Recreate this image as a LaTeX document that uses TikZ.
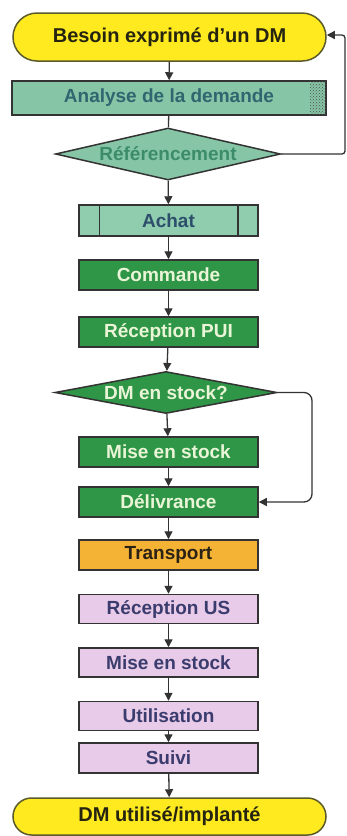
\documentclass[tikz,border=0pt]{standalone}
\usepackage{fontspec}
\setmainfont{Liberation Sans}
\usetikzlibrary{shapes.geometric,shapes.misc,arrows.meta,patterns}

\definecolor{termfill}{HTML}{FFE91F}
\definecolor{termline}{HTML}{5A5A2A}
\definecolor{tealfill}{HTML}{86C6A6}
\definecolor{tealtext}{HTML}{2F6670}
\definecolor{reftext}{HTML}{3C8C6A}
\definecolor{achatfill}{HTML}{90CCAE}
\definecolor{achattext}{HTML}{2D4F6B}
\definecolor{greenfill}{HTML}{2E9646}
\definecolor{greentext}{HTML}{EAF5D8}
\definecolor{orangefill}{HTML}{F5B335}
\definecolor{orangetext}{HTML}{2B2215}
\definecolor{pinkfill}{HTML}{E8CBE8}
\definecolor{pinktext}{HTML}{3B3C6E}
\definecolor{edge}{HTML}{333333}

\tikzset{
  base/.style={draw=edge, line width=1.5pt, inner sep=0pt, font=\fontsize{19}{21}\selectfont\bfseries},
  terminal/.style={base, rounded rectangle, draw=termline, fill=termfill, text=termline!40!black,
    minimum width=313pt, font=\fontsize{20}{22}\selectfont\bfseries},
  procbox/.style={base, rectangle, minimum width=179pt, minimum height=30pt},
  greenbox/.style={procbox, fill=greenfill, text=greentext},
  pinkbox/.style={procbox, fill=pinkfill, text=pinktext},
  decision/.style={base, diamond, aspect=1},
  arr/.style={draw=edge, line width=1.3pt, -{Triangle[width=8pt,length=8pt]}},
  link/.style={draw=edge, line width=1.3pt},
}

\begin{document}
\begin{tikzpicture}[x=1pt,y=-1pt]
\useasboundingbox (0,0) rectangle (347,836);

% main column
\node[terminal, minimum height=48pt] (besoin) at (169.5,37) {Besoin exprimé d'un DM};
\node[base, rectangle, fill=tealfill, text=tealtext, minimum width=314pt, minimum height=34pt]
  (analyse) at (169,98) {Analyse de la demande};
\fill[pattern=crosshatch dots, pattern color=gray!60!black]
  ([xshift=-17pt,yshift=-1pt]analyse.north east) rectangle ([xshift=-1pt,yshift=1pt]analyse.south east);
\node[decision, fill=tealfill, minimum width=225pt, minimum height=52pt,
  label={[font=\fontsize{19}{21}\selectfont\bfseries, text=reftext]center:Référencement}]
  (referencement) at (168,154) {};
\node[procbox, fill=achatfill, text=achattext, minimum height=31pt] (achat) at (168.5,220.5) {Achat};
\draw[edge, line width=1.5pt] ([xshift=21pt]achat.north west) -- ([xshift=21pt]achat.south west);
\draw[edge, line width=1.5pt] ([xshift=-21pt]achat.north east) -- ([xshift=-21pt]achat.south east);
\node[greenbox] (commande) at (168.5,275) {Commande};
\node[greenbox] (recpui) at (168.5,332) {Réception PUI};
\node[decision, fill=greenfill, minimum width=222pt, minimum height=42pt,
  label={[font=\fontsize{19}{21}\selectfont\bfseries, text=greentext]center:DM en stock?}]
  (enstock) at (166,392.5) {};
\node[greenbox] (misestock) at (168.5,452) {Mise en stock};
\node[greenbox] (delivrance) at (168.5,502) {Délivrance};
\node[procbox, fill=orangefill, text=orangetext] (transport) at (168.5,555) {Transport};
\node[pinkbox, minimum height=29pt] (recus) at (168.5,609) {Réception US};
\node[pinkbox, minimum height=29pt] (misestockus) at (168.5,662.5) {Mise en stock};
\node[pinkbox, minimum height=29pt] (utilisation) at (168.5,716) {Utilisation};
\node[pinkbox] (suivi) at (168.5,758) {Suivi};
\node[terminal, minimum height=37pt] (implante) at (169.5,816.5) {DM utilisé/implanté};

% vertical flow
\draw[arr] (besoin) -- (analyse);
\draw[link] (analyse) -- (referencement);
\draw[arr] (referencement) -- (achat);
\draw[arr] (achat) -- (commande);
\draw[arr] (commande) -- (recpui);
\draw[arr] (recpui) -- (enstock);
\draw[arr] (enstock) -- (misestock);
\draw[arr] (misestock) -- (delivrance);
\draw[arr] (delivrance) -- (transport);
\draw[arr] (transport) -- (recus);
\draw[arr] (recus) -- (misestockus);
\draw[arr] (misestockus) -- (utilisation);
\draw[arr] (utilisation) -- (suivi);
\draw[arr] (suivi) -- (implante);

% return loops
\coordinate (loopref) at (345,35);
\coordinate (loopstock) at (312,502);
\draw[arr, rounded corners=3pt] (referencement.east) -| (loopref) -- (besoin.east |- loopref);
\draw[arr, rounded corners=8pt] (enstock.east) -| (loopstock) -- (delivrance.east);
\end{tikzpicture}
\end{document}
